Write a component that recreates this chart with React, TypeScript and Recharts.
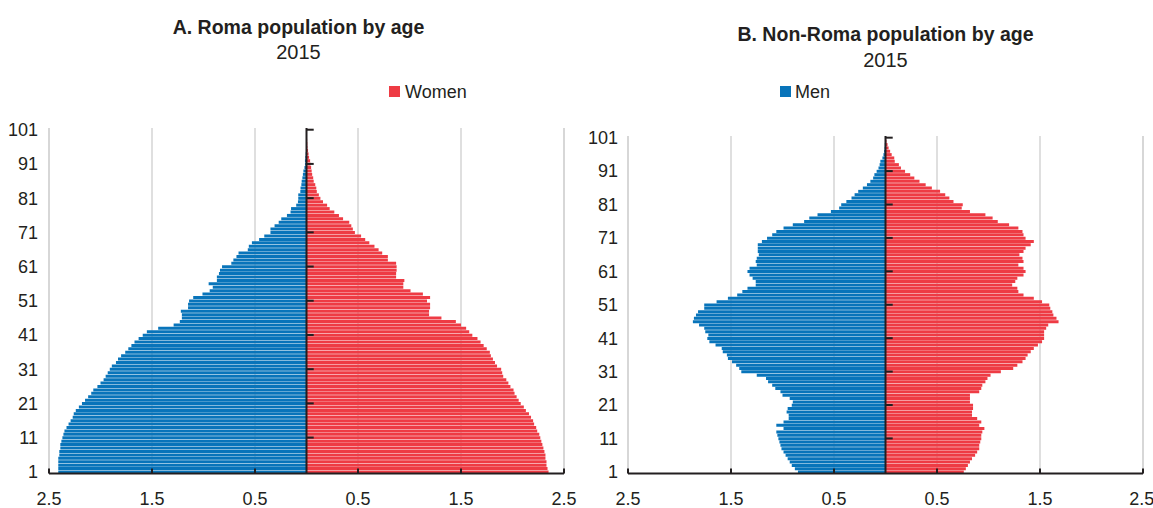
import React from "react";
import { BarChart, Bar, XAxis, YAxis, CartesianGrid, ReferenceLine } from "recharts";

// ages 1..101, bottom to top
const ages = Array.from({ length: 101 }, (_, i) => i + 1);

// share of population (%), index 0 = age 1
const romaMen = [
  2.41, 2.41, 2.41, 2.41, 2.41, 2.4, 2.4, 2.39, 2.39, 2.38,
  2.37, 2.36, 2.35, 2.33, 2.31, 2.29, 2.27, 2.26, 2.24, 2.21,
  2.18, 2.15, 2.12, 2.09, 2.07, 2.03, 2.0, 1.97, 1.95, 1.93,
  1.91, 1.89, 1.85, 1.83, 1.8, 1.76, 1.73, 1.7, 1.67, 1.63,
  1.59, 1.55, 1.44, 1.29, 1.23, 1.21, 1.21, 1.22, 1.15, 1.15,
  1.14, 1.1, 1.01, 0.94, 0.91, 0.95, 0.87, 0.87, 0.85, 0.84,
  0.82, 0.73, 0.71, 0.68, 0.66, 0.57, 0.56, 0.53, 0.46, 0.41,
  0.35, 0.35, 0.31, 0.27, 0.245, 0.19, 0.155, 0.15, 0.1, 0.083,
  0.08, 0.08, 0.06, 0.058, 0.05, 0.047, 0.04, 0.035, 0.03, 0.02,
  0.015, 0.015, 0.012, 0.008, 0.005, 0.004, 0.003, 0.002, 0.001, 0.001,
  0.001,
];

const romaWomen = [
  2.35, 2.34, 2.33, 2.33, 2.32, 2.32, 2.31, 2.3, 2.29, 2.28,
  2.27, 2.26, 2.24, 2.23, 2.21, 2.2, 2.18, 2.16, 2.13, 2.11,
  2.08, 2.06, 2.04, 2.02, 2.01, 1.98, 1.96, 1.94, 1.91, 1.9,
  1.89, 1.85, 1.83, 1.81, 1.79, 1.78, 1.75, 1.72, 1.69, 1.66,
  1.61, 1.58, 1.55, 1.5, 1.45, 1.31, 1.19, 1.19, 1.2, 1.2,
  1.17, 1.2, 1.13, 1.01, 0.94, 0.94, 0.95, 0.87, 0.87, 0.875,
  0.875, 0.87, 0.79, 0.79, 0.735, 0.7, 0.66, 0.61, 0.57, 0.53,
  0.47, 0.45, 0.435, 0.415, 0.355, 0.315, 0.27, 0.225, 0.2, 0.16,
  0.135, 0.12, 0.1, 0.095, 0.085, 0.07, 0.065, 0.055, 0.05, 0.045,
  0.04, 0.035, 0.025, 0.02, 0.015, 0.01, 0.008, 0.006, 0.004, 0.003,
  0.002,
];

const nonRomaMen = [
  0.85, 0.88, 0.91, 0.93, 0.95, 0.97, 0.99, 1.01, 1.02, 1.03,
  1.04, 1.05, 1.06, 0.99, 1.06, 0.99, 0.94, 0.94, 0.96, 0.95,
  0.91, 0.9, 0.93, 1.0, 1.02, 1.07, 1.1, 1.14, 1.16, 1.25,
  1.4, 1.42, 1.45, 1.49, 1.53, 1.54, 1.58, 1.59, 1.65, 1.71,
  1.73, 1.72, 1.75, 1.76, 1.81, 1.87, 1.86, 1.84, 1.82, 1.76,
  1.76, 1.64, 1.53, 1.44, 1.39, 1.34, 1.26, 1.26, 1.29, 1.32,
  1.34, 1.32, 1.25, 1.26, 1.25, 1.23, 1.24, 1.24, 1.24, 1.2,
  1.15, 1.1, 1.06, 0.99, 0.9, 0.79, 0.74, 0.66, 0.53, 0.45,
  0.43, 0.38, 0.33, 0.3, 0.265, 0.22, 0.18, 0.147, 0.12, 0.108,
  0.086, 0.068, 0.057, 0.05, 0.03, 0.02, 0.014, 0.01, 0.007, 0.004,
  0.002,
];

const nonRomaWomen = [
  0.76, 0.78, 0.8, 0.82, 0.84, 0.87, 0.89, 0.91, 0.91, 0.92,
  0.93, 0.93, 0.94, 0.96, 0.91, 0.93, 0.89, 0.84, 0.84, 0.85,
  0.85, 0.82, 0.82, 0.82, 0.91, 0.93, 0.94, 0.97, 0.99, 1.02,
  1.12, 1.24, 1.28, 1.33, 1.36, 1.38, 1.41, 1.44, 1.48, 1.52,
  1.54, 1.54, 1.54, 1.56, 1.58, 1.68, 1.66, 1.63, 1.62, 1.6,
  1.59, 1.52, 1.44, 1.34, 1.29, 1.28, 1.23, 1.26, 1.28, 1.34,
  1.36, 1.34, 1.29, 1.34, 1.33, 1.3, 1.34, 1.36, 1.41, 1.44,
  1.36, 1.34, 1.33, 1.29, 1.2, 1.09, 1.04, 0.97, 0.82, 0.74,
  0.75, 0.66, 0.62, 0.58, 0.53, 0.45, 0.39, 0.33, 0.28, 0.24,
  0.19, 0.15, 0.13, 0.09, 0.085, 0.06, 0.045, 0.03, 0.02, 0.01,
  0.005,
];

const xTicks = [-2.5, -1.5, -0.5, 0.5, 1.5, 2.5];
const yTicks = [1, 11, 21, 31, 41, 51, 61, 71, 81, 91, 101];
const markAges = [11, 21, 31, 41, 51, 61, 71, 81, 91, 101];

const BLUE = "#0874BA";
const RED = "#EE3B44";
const INK = "#231F20";
const GRID = "#d4d4d4";
const FONT = '"Liberation Sans Narrow", "Arial Narrow", "Liberation Sans", Arial, sans-serif';

const buildRows = (men: number[], women: number[]) =>
  ages.map((age, i) => ({ age, men: -men[i], women: women[i] }));

const romaRows = buildRows(romaMen, romaWomen);
const nonRomaRows = buildRows(nonRomaMen, nonRomaWomen);

function Pyramid({ rows, width, top, right, yWidth, yGap }: any) {
  return (
    <BarChart
      width={width}
      height={508}
      data={rows}
      layout="vertical"
      stackOffset="sign"
      barCategoryGap="12%"
      margin={{ top, right, bottom: 4.5, left: 0 }}
    >
      <CartesianGrid horizontal={false} stroke={GRID} strokeWidth={1.5} />
      <ReferenceLine x={-2.5} stroke={GRID} strokeWidth={1.5} />
      <ReferenceLine x={2.5} stroke={GRID} strokeWidth={1.5} />
      <XAxis
        type="number"
        domain={[-2.5, 2.5]}
        ticks={xTicks}
        allowDataOverflow
        tickFormatter={(v: number) => Math.abs(v).toFixed(1)}
        axisLine={{ stroke: INK, strokeWidth: 2 }}
        tickLine={{ stroke: INK, strokeWidth: 2 }}
        tickSize={-5}
        tickMargin={24}
        height={30}
        tick={{ fill: INK, fontSize: 18 }}
      />
      <YAxis
        type="category"
        dataKey="age"
        reversed
        ticks={yTicks}
        interval={0}
        axisLine={false}
        tickLine={false}
        width={yWidth}
        tickMargin={yGap}
        tick={{ fill: INK, fontSize: 18 }}
      />
      <Bar dataKey="men" stackId="p" fill={BLUE} isAnimationActive={false} />
      <Bar dataKey="women" stackId="p" fill={RED} isAnimationActive={false} />
      <ReferenceLine x={0} stroke={INK} strokeWidth={2} />
      {markAges.map((a) => (
        <ReferenceLine
          key={a}
          segment={[{ x: 0, y: a }, { x: 0.07, y: a }]}
          stroke={INK}
          strokeWidth={2}
        />
      ))}
    </BarChart>
  );
}

const abs = (style: React.CSSProperties): React.CSSProperties => ({
  position: "absolute",
  whiteSpace: "nowrap",
  ...style,
});

const titleStyle: React.CSSProperties = {
  textAlign: "center",
  fontSize: 21,
  lineHeight: "21px",
  fontWeight: 700,
  transform: "scaleX(0.93)",
  transformOrigin: "center",
};

export default function App() {
  return (
    <div
      style={{
        position: "absolute",
        left: 0,
        top: 0,
        width: 1153,
        height: 508,
        background: "#fff",
        fontFamily: FONT,
        color: INK,
        overflow: "hidden",
      }}
    >
      <div style={abs({ left: 0, top: 0 })}>
        <Pyramid rows={romaRows} width={580} top={128} right={16} yWidth={49} yGap={5} />
      </div>
      <div style={abs({ left: 580, top: 0 })}>
        <Pyramid rows={nonRomaRows} width={573} top={136} right={10} yWidth={48} yGap={4} />
      </div>

      <div style={abs({ left: 0, width: 597, top: 16, ...titleStyle })}>
        A. Roma population by age
      </div>
      <div style={abs({ left: 0, width: 597, top: 42, textAlign: "center", fontSize: 20, lineHeight: "20px" })}>
        2015
      </div>
      <div style={abs({ left: 600, width: 571, top: 23, ...titleStyle })}>
        B. Non-Roma population by age
      </div>
      <div style={abs({ left: 600, width: 571, top: 50, textAlign: "center", fontSize: 20, lineHeight: "20px" })}>
        2015
      </div>

      <div style={abs({ left: 389, top: 86, width: 11, height: 11, background: RED })} />
      <div style={abs({ left: 405, top: 83, fontSize: 18, lineHeight: "18px" })}>Women</div>
      <div style={abs({ left: 780, top: 86, width: 11, height: 11, background: BLUE })} />
      <div style={abs({ left: 795, top: 83, fontSize: 18, lineHeight: "18px" })}>Men</div>
    </div>
  );
}
